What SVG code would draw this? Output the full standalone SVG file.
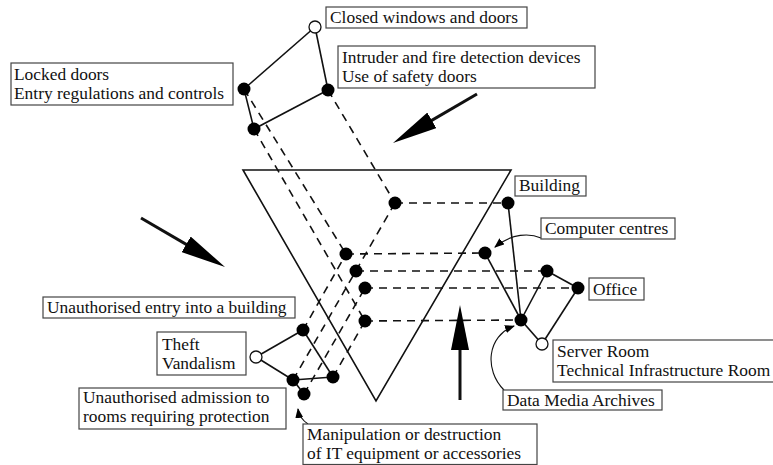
<svg xmlns="http://www.w3.org/2000/svg" width="773" height="465" viewBox="0 0 773 465">
<style>
text{font-family:"Liberation Serif","Times New Roman",serif;font-size:17.4px;fill:#111}
.box{fill:#fff;stroke:#444;stroke-width:1.2}
.s{stroke:#111;stroke-width:1.6;fill:none}
.d{stroke:#111;stroke-width:1.6;fill:none;stroke-dasharray:8 6}
.big{stroke:#111;stroke-width:3;fill:none;marker-end:url(#bigHead)}
.call{stroke:#111;stroke-width:1.1;fill:none;marker-end:url(#smallHead)}
.n{fill:#000}
.o{fill:#fff;stroke:#111;stroke-width:1.3}
</style>
<defs>
<marker id="bigHead" viewBox="0 0 45 18" refX="15" refY="9" markerWidth="45" markerHeight="18" markerUnits="userSpaceOnUse" orient="auto">
<path d="M0,0 L45,9 L0,18 Z" fill="#000"/>
</marker>
<marker id="smallHead" viewBox="0 0 10 8" refX="9" refY="4" markerWidth="10" markerHeight="8" markerUnits="userSpaceOnUse" orient="auto">
<path d="M0,0 L10,4 L0,8 Z" fill="#000"/>
</marker>
</defs>
<rect width="773" height="465" fill="#fff"/>

<g id="building-triangle">
<polygon points="243,170 511,170 376,401" class="s"/>
</g>

<g id="connectors">
<line class="s" x1="315" y1="27" x2="244" y2="89"/>
<line class="s" x1="315" y1="27" x2="328" y2="90"/>
<line class="s" x1="244" y1="89" x2="254" y2="129"/>
<line class="s" x1="254" y1="129" x2="328" y2="90"/>
<line class="s" x1="508" y1="203" x2="521" y2="320"/>
<line class="s" x1="485" y1="253" x2="521" y2="320"/>
<line class="s" x1="547" y1="271" x2="521" y2="320"/>
<line class="s" x1="547" y1="271" x2="578" y2="288"/>
<line class="s" x1="578" y1="288" x2="542" y2="344"/>
<line class="s" x1="521" y1="320" x2="542" y2="344"/>
<line class="s" x1="256" y1="357" x2="303" y2="330"/>
<line class="s" x1="256" y1="357" x2="293" y2="380"/>
<line class="s" x1="303" y1="330" x2="333" y2="377"/>
<line class="s" x1="293" y1="380" x2="333" y2="377"/>
<line class="s" x1="293" y1="380" x2="304" y2="394"/>
<line class="d" x1="328" y1="90" x2="395" y2="203"/>
<line class="d" x1="244" y1="89" x2="346" y2="254"/>
<line class="d" x1="254" y1="129" x2="365" y2="321"/>
<line class="d" x1="293" y1="380" x2="395" y2="203"/>
<line class="d" x1="303" y1="330" x2="346" y2="254"/>
<line class="d" x1="304" y1="394" x2="365" y2="288"/>
<line class="d" x1="333" y1="377" x2="365" y2="321"/>
<line class="d" x1="395" y1="203" x2="508" y2="203"/>
<line class="d" x1="346" y1="254" x2="485" y2="253"/>
<line class="d" x1="356" y1="271" x2="547" y2="271"/>
<line class="d" x1="365" y1="288" x2="578" y2="288"/>
<line class="d" x1="365" y1="321" x2="521" y2="320"/>
<line class="big" x1="477" y1="94" x2="418.9" y2="127.9"/>
<line class="big" x1="141" y1="218" x2="199.1" y2="251.9"/>
<line class="big" x1="460" y1="400" x2="460" y2="335"/>
<path class="call" d="M541,238 C530,233 512,233 495,247"/>
<path class="call" d="M504,390 C484,370 487,336 514,326"/>
<path class="call" d="M308,424 C302,420 299,416 298,409"/>
</g>

<g id="node-closed-windows"><circle class="o" cx="315" cy="27" r="6"/></g>
<g id="node-locked-doors"><circle class="n" cx="244" cy="89" r="6.5"/></g>
<g id="node-intruder"><circle class="n" cx="328" cy="90" r="6.5"/></g>
<g id="node-safeguard-bottom"><circle class="n" cx="254" cy="129" r="6.5"/></g>

<g id="node-n1"><circle class="n" cx="395" cy="203" r="6.5"/></g>
<g id="node-n2"><circle class="n" cx="346" cy="254" r="6.5"/></g>
<g id="node-n3"><circle class="n" cx="356" cy="271" r="6.5"/></g>
<g id="node-n4"><circle class="n" cx="365" cy="288" r="6.5"/></g>
<g id="node-n5"><circle class="n" cx="365" cy="321" r="6.5"/></g>

<g id="node-building"><circle class="n" cx="508" cy="203" r="6.5"/></g>
<g id="node-computer-centres"><circle class="n" cx="485" cy="253" r="6.5"/></g>
<g id="node-office-a"><circle class="n" cx="547" cy="271" r="6.5"/></g>
<g id="node-office"><circle class="n" cx="578" cy="288" r="6.5"/></g>
<g id="node-data-media"><circle class="n" cx="521" cy="320" r="6.5"/></g>
<g id="node-server-room"><circle class="o" cx="542" cy="344" r="6"/></g>

<g id="node-theft"><circle class="o" cx="256" cy="357" r="6"/></g>
<g id="node-unauth-entry"><circle class="n" cx="303" cy="330" r="6.5"/></g>
<g id="node-threat-right"><circle class="n" cx="333" cy="377" r="6.5"/></g>
<g id="node-unauth-admission"><circle class="n" cx="293" cy="380" r="6.5"/></g>
<g id="node-manipulation"><circle class="n" cx="304" cy="394" r="6.5"/></g>

<g id="label-closed-windows"><rect class="box" x="326" y="7" width="201" height="21"/><text x="330" y="23">Closed windows and doors</text></g>
<g id="label-intruder"><rect class="box" x="338" y="46" width="257" height="42"/><text x="342" y="63">Intruder and fire detection devices<tspan x="342" dy="19">Use of safety doors</tspan></text></g>
<g id="label-locked-doors"><rect class="box" x="11" y="63" width="222" height="42"/><text x="14" y="80">Locked doors<tspan x="14" dy="19">Entry regulations and controls</tspan></text></g>
<g id="label-building"><rect class="box" x="515" y="176" width="71" height="20"/><text x="519" y="191">Building</text></g>
<g id="label-computer-centres"><rect class="box" x="541" y="218" width="134" height="21"/><text x="545" y="234">Computer centres</text></g>
<g id="label-office"><rect class="box" x="589" y="278" width="55" height="22"/><text x="593" y="295">Office</text></g>
<g id="label-server-room"><rect class="box" x="553" y="340" width="230" height="42"/><text x="557" y="357">Server Room<tspan x="557" dy="19">Technical Infrastructure Room</tspan></text></g>
<g id="label-data-media"><rect class="box" x="503" y="390" width="159" height="20"/><text x="507" y="406">Data Media Archives</text></g>
<g id="label-unauth-entry"><rect class="box" x="43" y="297" width="252" height="21"/><text x="47" y="313">Unauthorised entry into a building</text></g>
<g id="label-theft"><rect class="box" x="157" y="332" width="89" height="43"/><text x="162" y="350">Theft<tspan x="162" dy="19">Vandalism</tspan></text></g>
<g id="label-unauth-admission"><rect class="box" x="79" y="388" width="207" height="41"/><text x="83" y="403">Unauthorised admission to<tspan x="83" dy="19">rooms requiring protection</tspan></text></g>
<g id="label-manipulation"><rect class="box" x="303" y="424" width="234" height="40.5"/><text x="307" y="440">Manipulation or destruction<tspan x="307" dy="19">of IT equipment or accessories</tspan></text></g>
</svg>
